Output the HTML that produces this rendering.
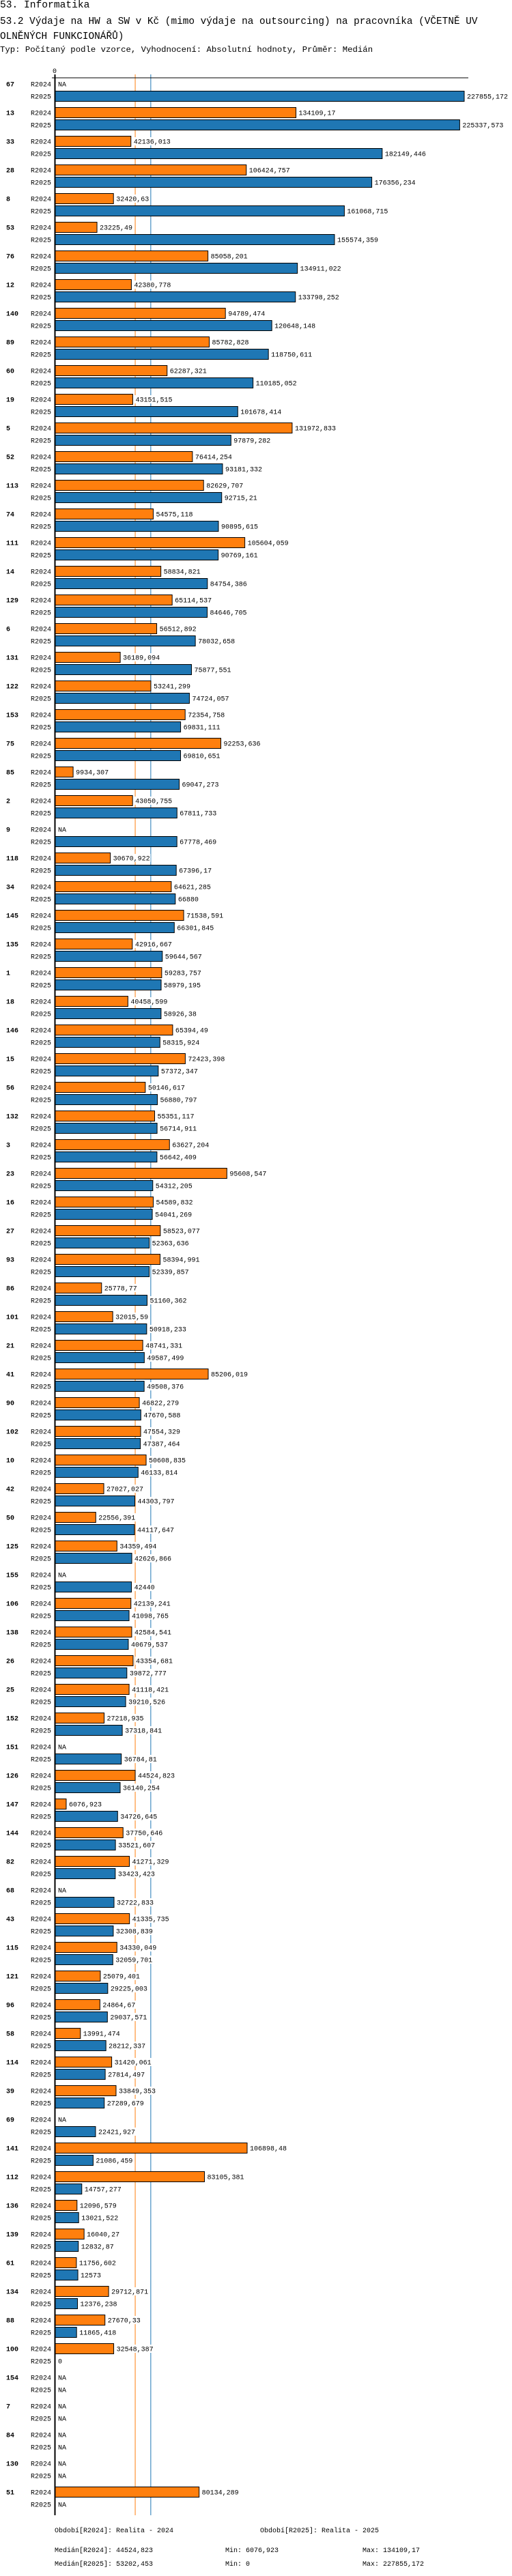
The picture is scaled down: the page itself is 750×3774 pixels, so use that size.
<!DOCTYPE html>
<html><head><meta charset="utf-8">
<style>
html,body{margin:0;padding:0;background:#fff;}
body{width:750px;height:3774px;overflow:hidden;position:relative;font-family:"Liberation Mono",monospace;}
.t{position:absolute;left:0;white-space:pre;color:#000;}
</style></head>
<body>
<div class="t" style="top:0;font-size:14.6px;line-height:17px;">53. Informatika</div>
<div class="t" style="top:22px;font-size:14.4px;line-height:21.7px;">53.2 Výdaje na HW a SW v Kč (mimo výdaje na outsourcing) na pracovníka (VČETNĚ UV
OLNĚNÝCH FUNKCIONÁŘŮ)</div>
<div class="t" style="top:65px;font-size:12.3px;line-height:16px;">Typ: Počítaný podle vzorce, Vyhodnocení: Absolutní hodnoty, Průměr: Medián</div>
<svg id="chart" width="750" height="3774" style="position:absolute;left:0;top:0" xmlns="http://www.w3.org/2000/svg" font-family="Liberation Mono, monospace" font-size="10"></svg>
<script>
const categories = ["67","13","33","28","8","53","76","12","140","89","60","19","5","52","113","74","111","14","129","6","131","122","153","75","85","2","9","118","34","145","135","1","18","146","15","56","132","3","23","16","27","93","86","101","21","41","90","102","10","42","50","125","155","106","138","26","25","152","151","126","147","144","82","68","43","115","121","96","58","114","39","69","141","112","136","139","61","134","88","100","154","7","84","130","51"];
const r2024 = [null,134109.17,42136.013,106424.757,32420.63,23225.49,85058.201,42380.778,94789.474,85782.828,62287.321,43151.515,131972.833,76414.254,82629.707,54575.118,105604.059,58834.821,65114.537,56512.892,36189.094,53241.299,72354.758,92253.636,9934.307,43050.755,null,30670.922,64621.285,71538.591,42916.667,59283.757,40458.599,65394.49,72423.398,50146.617,55351.117,63627.204,95608.547,54589.832,58523.077,58394.991,25778.77,32015.59,48741.331,85206.019,46822.279,47554.329,50608.835,27027.027,22556.391,34359.494,null,42139.241,42584.541,43354.681,41118.421,27218.935,null,44524.823,6076.923,37750.646,41271.329,null,41335.735,34330.049,25079.401,24864.67,13991.474,31420.061,33849.353,null,106898.48,83105.381,12096.579,16040.27,11756.602,29712.871,27670.33,32548.387,null,null,null,null,80134.289];
const r2025 = [227855.172,225337.573,182149.446,176356.234,161068.715,155574.359,134911.022,133798.252,120648.148,118750.611,110185.052,101678.414,97879.282,93181.332,92715.21,90895.615,90769.161,84754.386,84646.705,78032.658,75877.551,74724.057,69831.111,69810.651,69047.273,67811.733,67778.469,67396.17,66880,66301.845,59644.567,58979.195,58926.38,58315.924,57372.347,56880.797,56714.911,56642.409,54312.205,54041.269,52363.636,52339.857,51160.362,50918.233,49587.499,49508.376,47670.588,47387.464,46133.814,44303.797,44117.647,42626.866,42440,41098.765,40679.537,39872.777,39210.526,37318.841,36784.81,36140.254,34726.645,33521.607,33423.423,32722.833,32308.839,32059.701,29225.003,29037.571,28212.337,27814.497,27289.679,22421.927,21086.459,14757.277,13021.522,12832.87,12573,12376.238,11865.418,0,null,null,null,null,null];
const seriesNames = ["R2024","R2025"];
const medians = [44524.823,53202.453];
const legendPeriods = ["Období[R2024]: Realita - 2024","Období[R2025]: Realita - 2025"];
const legendStats = [["Medián[R2024]: 44524,823","Min: 6076,923","Max: 134109,17"],["Medián[R2025]: 53202,453","Min: 0","Max: 227855,172"]];

const NS="http://www.w3.org/2000/svg";
const svg=document.getElementById('chart');
const X0=81, XMAX=227855.172, XW=599;
const x=v=>X0+v/XMAX*XW;
const rowY=(g,s)=>123+42*g+18*s;
const colors=["#ff7f0e","#1f77b4"];
function mk(tag,attrs,parent){const e=document.createElementNS(NS,tag);for(const k in attrs)e.setAttribute(k,attrs[k]);(parent||svg).appendChild(e);return e;}
function fmt(v){return String(v).replace('.',',');}
const yEnd=3685;
// median lines
medians.forEach((m,i)=>{
  const l=mk('line',{x1:x(m),x2:x(m),y1:109,y2:yEnd,stroke:colors[i],'stroke-width':1});
  
  
});
// axes
const t0=mk('text',{x:80,y:107,'text-anchor':'middle'});t0.textContent='0';


const ax=mk('line',{x1:76,x2:686,y1:114,y2:114,stroke:'#000','stroke-width':1});


const ay=mk('line',{x1:80.5,x2:80.5,y1:109,y2:yEnd,stroke:'#000','stroke-width':2});


categories.forEach((c,g)=>{
  const gl=mk('text',{x:9,y:rowY(g,0)+3.5,'font-weight':'bold'});gl.textContent=c;
  
  
  [r2024,r2025].forEach((arr,s)=>{
    const cy=rowY(g,s);
    const sl=mk('text',{x:75,y:cy+3.5,'text-anchor':'end'});sl.textContent=seriesNames[s];
    
    
    const v=arr[g];
    let tx, label;
    if(v===null){tx=84;label='NA';}
    else if(v===0){tx=84;label='0';}
    else{
      const b=mk('rect',{x:X0,y:cy-7.5,width:x(v)-X0,height:15,fill:colors[s],stroke:'#000','stroke-width':1});
      
      
      tx=x(v)+3;label=fmt(v);
    }
    if(v!==null&&v!==0){mk('rect',{x:tx,y:cy-6,width:label.length*6+2,height:12,fill:'#fff'});}
    const vl=mk('text',{x:tx+1,y:cy+3.5});vl.textContent=label;
    
    
  });
});
// legend
legendPeriods.forEach((p,i)=>{
  const t=mk('text',{x:[80,381][i],y:3710});t.textContent=p;
  
  
});
legendStats.forEach((row,r)=>{
  row.forEach((s,i)=>{
    const t=mk('text',{x:[80,330,531][i],y:3739+r*20});t.textContent=s;
    
    
  });
});
</script>
</body></html>
